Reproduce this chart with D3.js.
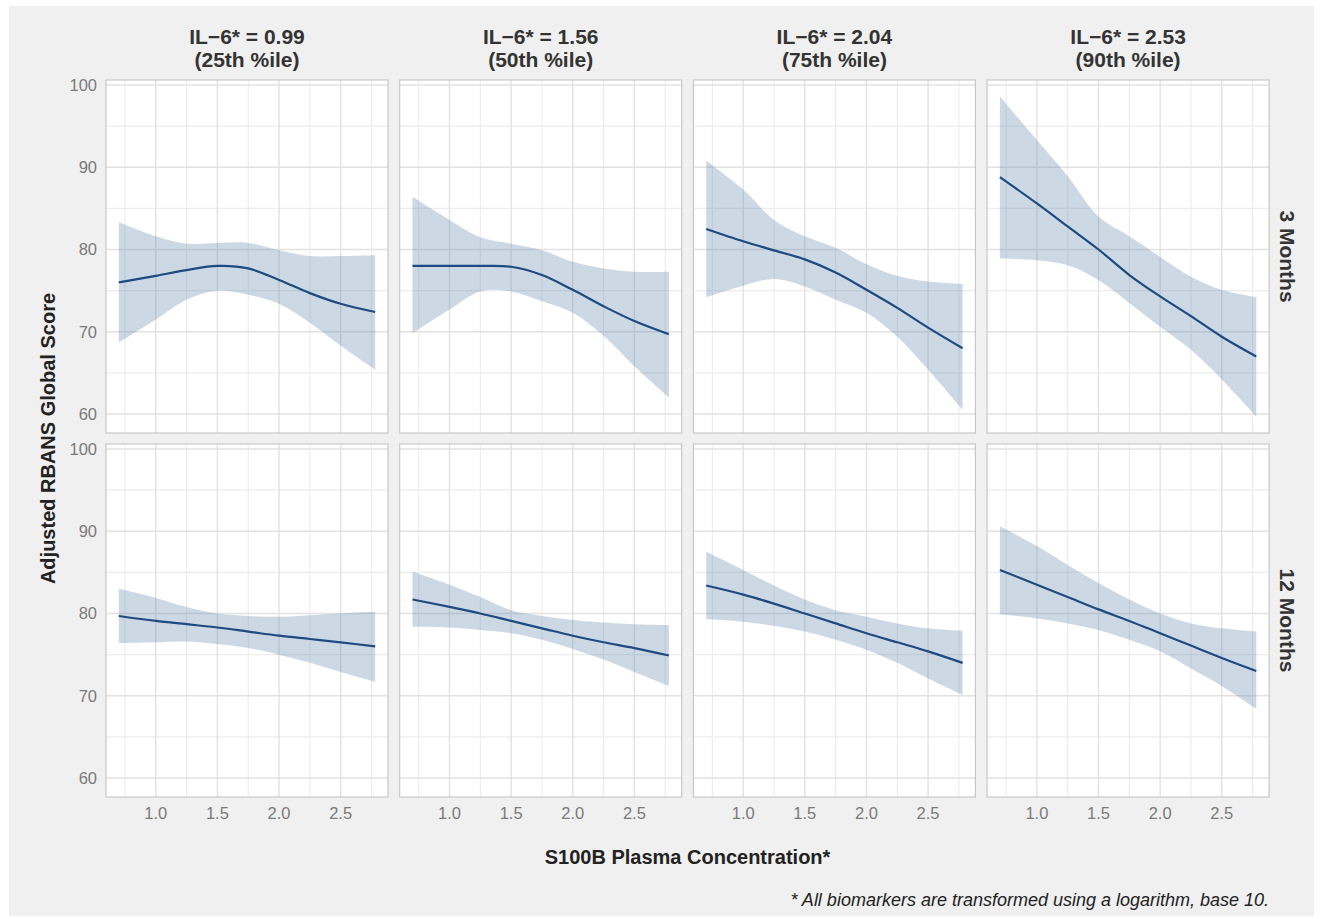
<!DOCTYPE html>
<html>
<head>
<meta charset="utf-8">
<script src="https://cdn.jsdelivr.net/npm/d3@7"></script>
<style>
  body { margin: 0; background: #fff; }
  text { font-family: "Liberation Sans", Arial, sans-serif; }
</style>
</head>
<body>
<svg width="1320" height="919"></svg>
<script>
const svg = d3.select("svg");
const width = +svg.attr("width");
const height = +svg.attr("height");

// S100B values (log10) where the curves were read
const xValues = [0.7, 1.0, 1.25, 1.5, 1.75, 2.0, 2.25, 2.5, 2.78];

const colLabels = ["IL\u22126* = 0.99", "IL\u22126* = 1.56", "IL\u22126* = 2.04", "IL\u22126* = 2.53"];
const colSubLabels = ["(25th %ile)", "(50th %ile)", "(75th %ile)", "(90th %ile)"];
const rowLabels = ["3 Months", "12 Months"];

const xTicks = [1.0, 1.5, 2.0, 2.5];
const yTicks = [60, 70, 80, 90, 100];

// 3 months, one array per IL-6 level
const fit3mo = [
  [76.0, 76.8, 77.5, 78.0, 77.7, 76.3, 74.7, 73.4, 72.4],
  [78.0, 78.0, 78.0, 77.9, 76.9, 75.1, 73.1, 71.3, 69.7],
  [82.5, 81.0, 79.9, 78.8, 77.2, 75.1, 72.9, 70.5, 68.0],
  [88.8, 85.6, 82.8, 80.0, 76.9, 74.3, 71.9, 69.4, 67.0],
];
const upper3mo = [
  [83.3, 81.6, 80.7, 80.8, 80.8, 79.9, 79.2, 79.2, 79.3],
  [86.4, 83.6, 81.5, 80.7, 79.9, 78.5, 77.7, 77.3, 77.3],
  [90.8, 87.3, 83.6, 81.6, 80.2, 78.2, 76.8, 76.1, 75.8],
  [98.6, 93.3, 88.9, 84.0, 81.6, 79.1, 76.7, 75.1, 74.2],
];
const lower3mo = [
  [68.7, 71.5, 73.9, 75.0, 74.5, 73.4, 71.1, 68.3, 65.4],
  [69.8, 72.7, 74.9, 74.9, 73.7, 72.3, 69.5, 65.8, 62.0],
  [74.2, 75.6, 76.4, 75.5, 73.9, 72.3, 69.4, 65.4, 60.5],
  [78.9, 78.7, 78.1, 76.3, 73.5, 70.6, 67.8, 64.2, 59.7],
];

// 12 months
const fit12mo = [
  [79.7, 79.1, 78.7, 78.3, 77.8, 77.3, 76.9, 76.5, 76.0],
  [81.7, 80.8, 80.0, 79.1, 78.2, 77.3, 76.5, 75.8, 74.9],
  [83.4, 82.3, 81.2, 80.0, 78.8, 77.6, 76.5, 75.4, 74.0],
  [85.3, 83.5, 82.0, 80.5, 79.1, 77.6, 76.1, 74.6, 73.0],
];
const upper12mo = [
  [83.0, 81.9, 80.8, 80.0, 79.7, 79.6, 79.8, 80.0, 80.2],
  [85.1, 83.5, 82.0, 80.4, 79.7, 79.2, 78.9, 78.7, 78.6],
  [87.5, 85.3, 83.4, 81.7, 80.4, 79.6, 78.8, 78.2, 77.9],
  [90.6, 88.2, 85.9, 83.7, 81.7, 80.0, 78.8, 78.2, 77.8],
];
const lower12mo = [
  [76.4, 76.5, 76.6, 76.3, 75.8, 75.0, 74.0, 72.9, 71.7],
  [78.4, 78.3, 78.0, 77.6, 76.8, 75.7, 74.4, 72.9, 71.2],
  [79.3, 79.0, 78.5, 77.8, 76.8, 75.6, 74.0, 72.1, 70.1],
  [79.9, 79.4, 78.8, 78.0, 76.8, 75.4, 73.3, 71.2, 68.4],
];

const rows = [
  { fit: fit3mo, upper: upper3mo, lower: lower3mo },
  { fit: fit12mo, upper: upper12mo, lower: lower12mo },
];

const margin = { top: 80, left: 106 };
const panelW = 282;
const panelH = 353;
const gapX = 11.7;
const gapY = 11;

// background
svg.append("rect").attr("width", width).attr("height", height).attr("fill", "#fff");
svg.append("rect")
  .attr("x", 9).attr("y", 6)
  .attr("width", 1305).attr("height", 910)
  .attr("fill", "#f0f0f0");

const xScale = d3.scaleLinear().domain([0.596, 2.884]).range([0, panelW]);
const yScale = d3.scaleLinear().domain([57.69, 100.61]).range([panelH, 0]);

const xMinor = [0.75, 1.25, 1.75, 2.25, 2.75];
const yMinor = [65, 75, 85, 95];

const area = d3.area()
  .x((d) => xScale(d.x))
  .y0((d) => yScale(d.lo))
  .y1((d) => yScale(d.hi))
  .curve(d3.curveCatmullRom.alpha(0.5));

const line = d3.line()
  .x((d) => xScale(d.x))
  .y((d) => yScale(d.y))
  .curve(d3.curveCatmullRom.alpha(0.5));

rows.forEach((row, r) => {
  colLabels.forEach((lab, c) => {
    const px = margin.left + c * (panelW + gapX);
    const py = margin.top + r * (panelH + gapY);
    const g = svg.append("g").attr("transform", `translate(${px}, ${py})`);

    g.append("rect").attr("width", panelW).attr("height", panelH).attr("fill", "#fff");

    // grid
    g.selectAll(".minorx").data(xMinor).enter().append("line")
      .attr("x1", (d) => xScale(d)).attr("x2", (d) => xScale(d))
      .attr("y1", 0).attr("y2", panelH)
      .attr("stroke", "#ececec").attr("stroke-width", 1.1);
    g.selectAll(".minory").data(yMinor).enter().append("line")
      .attr("y1", (d) => yScale(d)).attr("y2", (d) => yScale(d))
      .attr("x1", 0).attr("x2", panelW)
      .attr("stroke", "#ececec").attr("stroke-width", 1.1);
    g.selectAll(".majorx").data(xTicks).enter().append("line")
      .attr("x1", (d) => xScale(d)).attr("x2", (d) => xScale(d))
      .attr("y1", 0).attr("y2", panelH)
      .attr("stroke", "#e2e2e2").attr("stroke-width", 1.4);
    g.selectAll(".majory").data(yTicks).enter().append("line")
      .attr("y1", (d) => yScale(d)).attr("y2", (d) => yScale(d))
      .attr("x1", 0).attr("x2", panelW)
      .attr("stroke", "#e2e2e2").attr("stroke-width", 1.4);

    const pts = xValues.map((x, i) => ({
      x: x,
      y: row.fit[c][i],
      lo: row.lower[c][i],
      hi: row.upper[c][i],
    }));

    g.append("path")
      .datum(pts)
      .attr("d", area)
      .attr("fill", "#5a7fa9")
      .attr("fill-opacity", 0.3);

    g.append("path")
      .datum(pts)
      .attr("d", line)
      .attr("fill", "none")
      .attr("stroke", "#1d4a80")
      .attr("stroke-width", 2.2);

    g.append("rect")
      .attr("width", panelW).attr("height", panelH)
      .attr("fill", "none")
      .attr("stroke", "#c8c8c8").attr("stroke-width", 1.2);

    // y axis labels only in first column
    if (c === 0) {
      g.selectAll(".ytick").data(yTicks).enter().append("text")
        .attr("x", -9)
        .attr("y", (d) => yScale(d))
        .attr("dy", "0.35em")
        .attr("text-anchor", "end")
        .attr("fill", "#7a7a7a")
        .attr("font-size", 16.5)
        .text((d) => d);
    }

    // x axis labels only in bottom row
    if (r === rows.length - 1) {
      g.selectAll(".xtick").data(xTicks).enter().append("text")
        .attr("x", (d) => xScale(d))
        .attr("y", panelH + 22)
        .attr("text-anchor", "middle")
        .attr("fill", "#7a7a7a")
        .attr("font-size", 16.5)
        .text((d) => d.toFixed(1));
    }

    // strip labels on top
    if (r === 0) {
      g.append("text")
        .attr("x", panelW / 2).attr("y", -36)
        .attr("text-anchor", "middle")
        .attr("font-size", 21).attr("font-weight", "bold")
        .attr("fill", "#333")
        .text(lab);
      g.append("text")
        .attr("x", panelW / 2).attr("y", -13)
        .attr("text-anchor", "middle")
        .attr("font-size", 21).attr("font-weight", "bold")
        .attr("fill", "#333")
        .text(colSubLabels[c]);
    }

    // strip labels on the right
    if (c === colLabels.length - 1) {
      g.append("text")
        .attr("transform", `translate(${panelW + 11}, ${panelH / 2}) rotate(90)`)
        .attr("text-anchor", "middle")
        .attr("font-size", 21).attr("font-weight", "bold")
        .attr("fill", "#333")
        .text(rowLabels[r]);
    }
  });
});

// axis titles
const plotRight = margin.left + 4 * panelW + 3 * gapX;
const plotBottom = margin.top + 2 * panelH + gapY;

svg.append("text")
  .attr("transform", `translate(55, ${(margin.top + plotBottom) / 2}) rotate(-90)`)
  .attr("text-anchor", "middle")
  .attr("font-size", 20).attr("font-weight", "bold")
  .attr("fill", "#222")
  .text("Adjusted RBANS Global Score");

svg.append("text")
  .attr("x", (margin.left + plotRight) / 2)
  .attr("y", 864)
  .attr("text-anchor", "middle")
  .attr("font-size", 20).attr("font-weight", "bold")
  .attr("fill", "#222")
  .text("S100B Plasma Concentration*");

svg.append("text")
  .attr("x", plotRight)
  .attr("y", 906)
  .attr("text-anchor", "end")
  .attr("font-size", 18).attr("font-style", "italic")
  .attr("fill", "#222")
  .text("* All biomarkers are transformed using a logarithm, base 10.");
</script>
</body>
</html>
